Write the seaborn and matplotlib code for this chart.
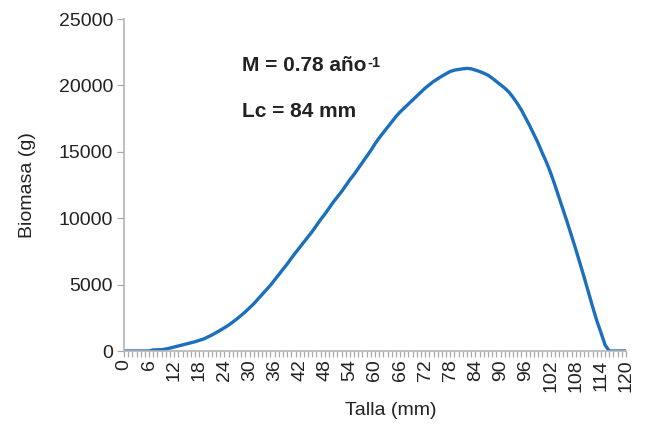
import numpy as np
import pandas as pd
import matplotlib
matplotlib.use("Agg")
import matplotlib.pyplot as plt
import seaborn as sns

talla = list(range(0, 121))
biomasa = [
    0, 0, 0, 0, 0, 0, 0, 80, 90, 100,
    150, 220, 300, 380, 460, 540, 620, 700, 800, 900,
    1050, 1200, 1380, 1560, 1750, 1950, 2180, 2420, 2680, 2950,
    3250, 3550, 3900, 4250, 4600, 4950, 5350, 5750, 6150, 6550,
    6980, 7400, 7800, 8200, 8600, 9000, 9450, 9900, 10300, 10750,
    11200, 11600, 12000, 12450, 12900, 13300, 13750, 14200, 14650, 15100,
    15600, 16050, 16450, 16850, 17250, 17650, 18000, 18300, 18600, 18900,
    19200, 19500, 19800, 20050, 20300, 20500, 20700, 20880, 21050, 21150,
    21200, 21250, 21280, 21250, 21150, 21050, 20920, 20770, 20550, 20300,
    20050, 19800, 19500, 19100, 18650, 18150, 17550, 16950, 16300, 15650,
    14900, 14200, 13400, 12500, 11550, 10600, 9650, 8650, 7650, 6600,
    5550, 4450, 3350, 2300, 1400, 450, 0, 0, 0, 0,
    0,
]
xtick_labels = list(range(0, 121, 6))
ytick_values = [0, 5000, 10000, 15000, 20000, 25000]

sns.set_style("white")
plt.rcParams['font.family'] = ['Liberation Sans', 'DejaVu Sans']

df = pd.DataFrame({"Talla": talla, "Biomasa": biomasa})

fig = plt.figure(figsize=(6.46, 4.25), dpi=100)
ax = fig.add_axes([124/646, 1-351/425, (626-124)/646, (351-19)/425])

sns.lineplot(data=df, x="Talla", y="Biomasa", ax=ax, color="#1b6fbd", linewidth=2.4)

ax.set_xlim(0, 120)
ax.set_ylim(0, 25000)
ax.set_xticks(xtick_labels)
ax.set_xticklabels([str(v) for v in xtick_labels], rotation=90)
ax.set_xticks(range(0, 121), minor=True)
ax.set_yticks(ytick_values)
ax.set_yticklabels([str(v) for v in ytick_values])

for s in ["top", "right"]:
    ax.spines[s].set_visible(False)
for s in ["left", "bottom"]:
    ax.spines[s].set_color("#b5b5b5")
    ax.spines[s].set_linewidth(1.2)

ax.tick_params(axis="x", which="both", direction="out", length=4, width=0.9,
               color="#a8a8a8", labelsize=14, labelcolor="#222222", pad=2, bottom=True)
ax.tick_params(axis="y", which="major", direction="out", length=5, width=0.9,
               color="#a8a8a8", labelsize=14, labelcolor="#222222", pad=3, left=True)

ax.set_xlabel("Talla (mm)", fontsize=14, color="#222222")
ax.set_ylabel("Biomasa (g)", fontsize=14, color="#222222")
ax.xaxis.set_label_coords(0.532, -0.155)
ax.yaxis.set_label_coords(-0.175, 0.5)

t1 = ax.text(28.3, 21470, "M = 0.78 año", fontsize=15, fontweight="bold",
             color="#222222", va="center", ha="left")
ax.annotate("-1", xy=(1.0, 1.0), xycoords=t1, fontsize=10.5, fontweight="bold",
            color="#222222", va="top", ha="left")
ax.text(28.3, 18000, "Lc = 84 mm", fontsize=15, fontweight="bold",
        color="#222222", va="center", ha="left")

fig.savefig("out.png", dpi=100)
